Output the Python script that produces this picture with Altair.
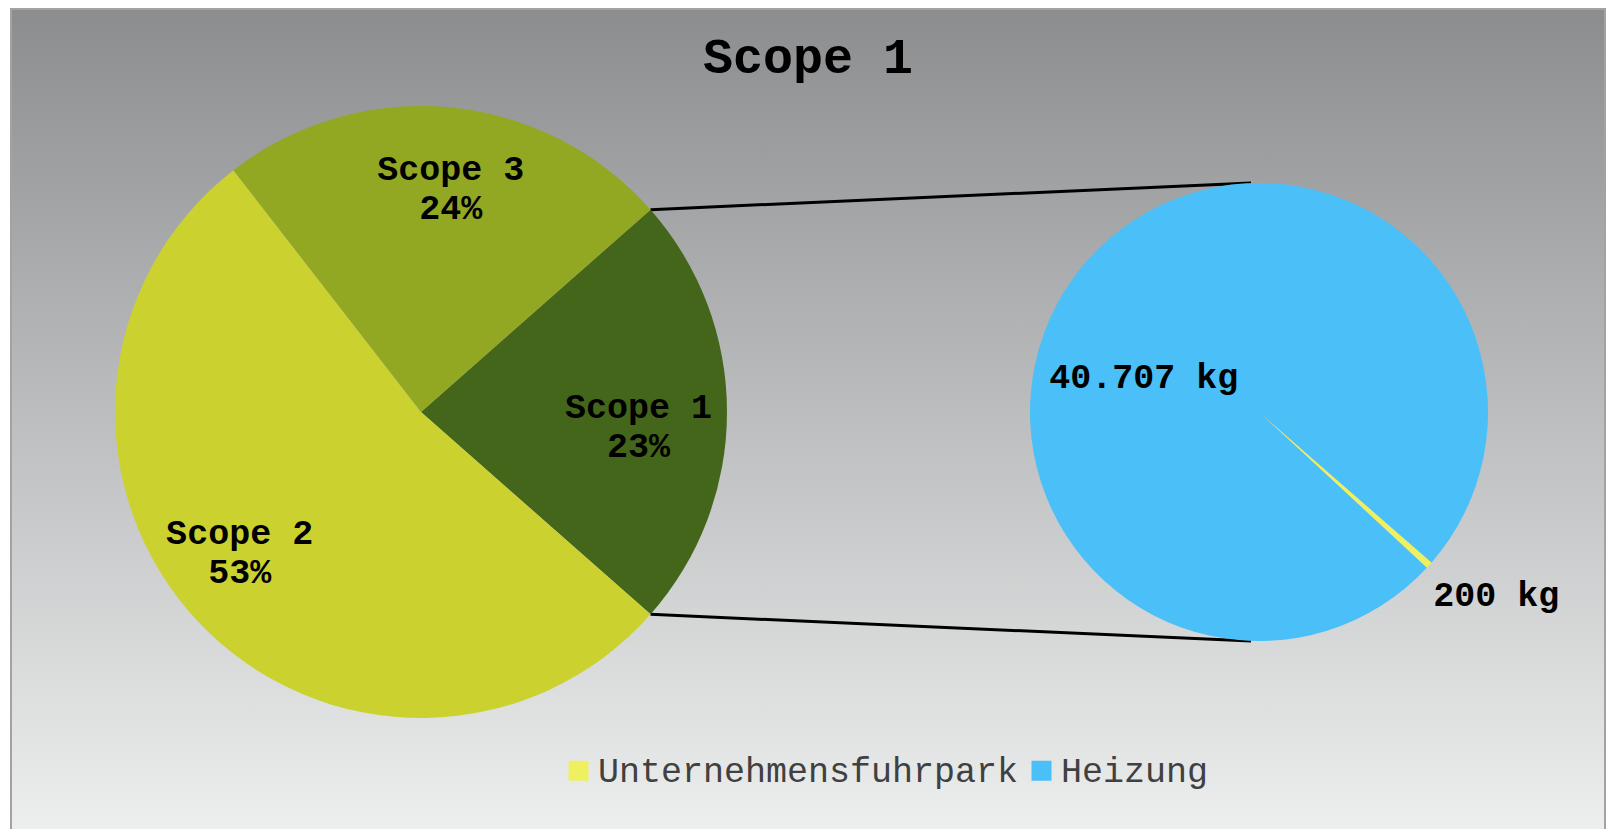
import math
import altair as alt
import pandas as pd

# ---------------- data ----------------
scope_names = ["Scope 1", "Scope 2", "Scope 3"]
scope_shares = [23, 53, 24]
scope_colors = ["#44661a", "#cbd22f", "#92a823"]

detail_names = ["Unternehmensfuhrpark", "Heizung"]
detail_values = [200, 40707]
detail_colors = ["#eef060", "#4bbff8"]

title_text = "Scope 1"

# ---------------- layout ----------------
FONT = "Liberation Mono"
W, H = 1600, 821
LCX, LCY, LR = 413, 404, 306
RCX, RCY, RR = 1251, 404, 229
TAU = 2 * math.pi
LEFT_START = math.radians(90) - TAU * scope_shares[0] / sum(scope_shares) / 2
RIGHT_START = math.radians(131.1)
LABEL_SHIFT = math.radians(4)

total_share = sum(scope_shares)
left_df = pd.DataFrame({
    "cat": scope_names,
    "value": scope_shares,
    "ord": list(range(len(scope_names))),
    "label": [f"{n}\n{round(v * 100 / total_share)}%" for n, v in zip(scope_names, scope_shares)],
})

right_df = pd.DataFrame({
    "cat": detail_names,
    "value": detail_values,
    "ord": list(range(len(detail_names))),
    "label": [f"{v:,}".replace(",", ".") + " kg" for v in detail_values],
})

# connector lines from the Scope 1 slice edges to the secondary pie
a1 = LEFT_START
a2 = LEFT_START + TAU * scope_shares[0] / total_share
conn_df = pd.DataFrame({
    "xa": [LCX + LR * math.sin(a1), LCX + LR * math.sin(a2)],
    "ya": [LCY - LR * math.cos(a1), LCY - LR * math.cos(a2)],
    "xb": [RCX - 8, RCX - 8],
    "yb": [RCY - RR, RCY + RR],
})

gradient = alt.LinearGradient(
    gradient="linear",
    stops=[alt.GradientStop(color="#8c8d8f", offset=0),
           alt.GradientStop(color="#eef0f0", offset=1)],
    x1=0, x2=0, y1=0, y2=1,
)

background = alt.Chart(pd.DataFrame({"a": [0]})).mark_rect(
    color=gradient, stroke="#a2a2a2", strokeWidth=2
).encode(x=alt.value(3), x2=alt.value(1597), y=alt.value(1), y2=alt.value(H + 12))

connectors = alt.Chart(conn_df).mark_rule(color="black", strokeWidth=3).encode(
    x=alt.X("xa:Q", scale=None, axis=None),
    y=alt.Y("ya:Q", scale=None, axis=None),
    x2="xb:Q",
    y2="yb:Q",
)

left_theta = alt.Theta("value:Q", stack=True,
                       scale=alt.Scale(range=[LEFT_START, LEFT_START + TAU]))
left_arc = alt.Chart(left_df).mark_arc(x=LCX, y=LCY, radius=LR).encode(
    theta=left_theta,
    order=alt.Order("ord:Q"),
    color=alt.Color("cat:N", scale=alt.Scale(domain=scope_names, range=scope_colors), legend=None),
)
left_text = alt.Chart(left_df).mark_text(
    x=LCX, y=LCY, radius=225, dx=-7, dy=-21, font=FONT, fontSize=35, fontWeight="bold",
    lineBreak="\n", lineHeight=39, color="black", baseline="middle", align="center",
).encode(
    theta=alt.Theta("value:Q", stack=True,
                    scale=alt.Scale(range=[LEFT_START + LABEL_SHIFT, LEFT_START + LABEL_SHIFT + TAU])),
    order=alt.Order("ord:Q"),
    detail="cat:N",
    text="label:N",
)

right_theta = alt.Theta("value:Q", stack=True,
                        scale=alt.Scale(range=[RIGHT_START, RIGHT_START + TAU]))
right_arc = alt.Chart(right_df).mark_arc(x=RCX, y=RCY, radius=RR).encode(
    theta=right_theta,
    order=alt.Order("ord:Q"),
    color=alt.Color(
        "cat:N",
        scale=alt.Scale(domain=detail_names, range=detail_colors),
        legend=alt.Legend(
            orient="none", legendX=553, legendY=745, direction="horizontal",
            title=None, symbolType="square", symbolSize=400, symbolStrokeWidth=0,
            labelFont=FONT, labelFontSize=35, labelColor="#404040",
            labelOffset=2, columnPadding=5, labelLimit=0,
        ),
    ),
)

big_label = alt.Chart(right_df).mark_text(
    x=RCX, y=RCY, radius=120, dx=-26, dy=45, font=FONT, fontSize=35,
    fontWeight="bold", color="black", baseline="middle", align="center",
).encode(
    theta=right_theta,
    order=alt.Order("ord:Q"),
    detail="cat:N",
    text=alt.condition("datum.cat == 'Heizung'", "label:N", alt.value("")),
)
small_label = alt.Chart(right_df).mark_text(
    x=RCX, y=RCY, radius=299, dx=15, dy=-17, font=FONT, fontSize=35,
    fontWeight="bold", color="black", baseline="middle", align="center",
).encode(
    theta=right_theta,
    order=alt.Order("ord:Q"),
    detail="cat:N",
    text=alt.condition("datum.cat == 'Unternehmensfuhrpark'", "label:N", alt.value("")),
)

title = alt.Chart(pd.DataFrame({"t": [title_text]})).mark_text(
    x=800, y=65, baseline="alphabetic", align="center", font=FONT,
    fontSize=50, fontWeight="bold", color="black",
).encode(text="t:N")

chart = alt.layer(
    background, connectors, left_arc, left_text, right_arc, big_label, small_label, title
).resolve_scale(
    theta="independent", color="independent"
).properties(
    width=W, height=H, padding=0, autosize="none", background="white"
).configure_view(stroke=None)

chart.save("out.html", embed_options={"renderer": "svg", "actions": False})
